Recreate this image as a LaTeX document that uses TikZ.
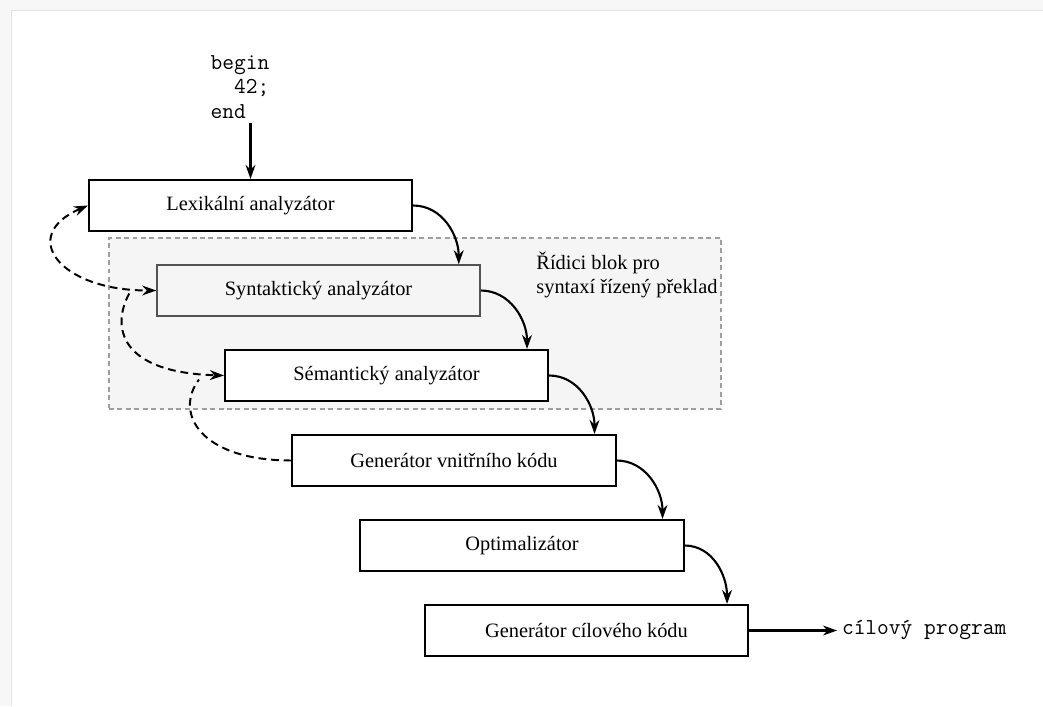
\documentclass[tikz,border=0pt]{standalone}
\usepackage{fontspec}
\setmainfont{Liberation Serif}
\usetikzlibrary{positioning, calc, arrows.meta}

\begin{document}
\begin{tikzpicture}[
		x=0.025cm, y=0.025cm,
		>={Stealth[length=10pt, width=7pt]},
		% --- bloky prekladace ---
		stage/.style={
			rectangle,
			draw,
			fill=white,
			line width=1.4pt,
			minimum width=8.075cm,
			minimum height=1.275cm,
			font=\fontsize{14.5}{17}\selectfont
		},
		flow/.style={->, line width=1.5pt},
		back/.style={line width=1.4pt, dash pattern=on 5.5pt off 3.5pt},
		code/.style={font=\ttfamily\fontsize{16.2}{17.4}\selectfont, align=left}
		]
		\useasboundingbox (0,0) rectangle (1043,706);
		
		% --- okraj stranky ---
		\fill[gray!6] (0,0) rectangle (11,706);
		\fill[gray!6] (0,696) rectangle (1043,706);
		\draw[gray!22, line width=0.6pt] (11,0) -- (11,696) -- (1043,696);
		
		% --- ridici blok ---
		\node (ctrl) [draw=gray!75, fill=gray!8, dash pattern=on 3.5pt off 2.5pt, line width=0.9pt,
			minimum width=15.3cm, minimum height=4.275cm] at (415,382.5) {};
		\node (ctrltxt) [align=left, font=\fontsize{14.5}{17}\selectfont] at (627,431) {Řídici blok pro\\syntaxí řízený překlad};
		
		% --- vstup ---
		\node (src) [code] at (240,619) {begin\\\phantom{xx}42;\\end};
		
		% --- faze ---
		\node (lex) [stage] at (250.5,500.5) {Lexikální analyzátor};
		\node (syn) [stage, draw=gray!65!black, fill=gray!8, line width=1pt] at (318.5,415.5) {Syntaktický analyzátor};
		\node (sem) [stage] at (386.5,330.5) {Sémantický analyzátor};
		\node (gvk) [stage] at (454,245.5) {Generátor vnitřního kódu};
		\node (opt) [stage] at (522,160.5) {Optimalizátor};
		\node (gck) [stage] at (586.5,75.5) {Generátor cílového kódu};
		
		% --- vystup ---
		\node (tgt) [code, right=2.2cm of gck] {cílový program};
		
		% --- tok ---
		\draw [flow] (src.south -| lex.north) -- (lex.north);
		\foreach \a/\b in {lex/syn, syn/sem, sem/gvk, gvk/opt, opt/gck}
			\draw [flow] (\a.east) to[out=0, in=90] ([xshift=-0.55cm]\b.north east);
		\draw [flow] (gck) -- (tgt);
		
		% --- zpetne vazby ---
		\coordinate (synfoot) at ($(syn.west)+(-27,-3)$);
		\coordinate (semfoot) at ($(sem.west)+(-25,-4)$);
		\draw [back, <->] (lex.west) .. controls +(-70,-30) and +(-97,0) .. (syn.west);
		\draw [back, ->] (synfoot) .. controls +(-18,-33) and +(-105,3) .. (sem.west);
		\draw [back] (gvk.west) .. controls +(-92,0) and +(-25,-33) .. (semfoot);
		
	\end{tikzpicture}
\end{document}
